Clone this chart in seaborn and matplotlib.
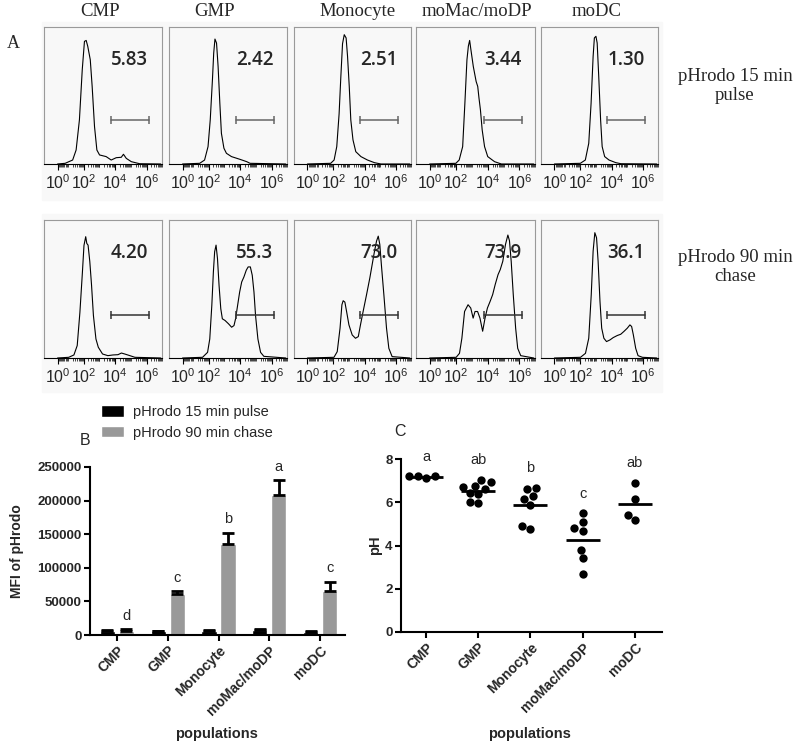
import numpy as np
import pandas as pd
import matplotlib
matplotlib.use("Agg")
import matplotlib.pyplot as plt
import matplotlib.ticker as mticker
from matplotlib.patches import Rectangle
import seaborn as sns

populations = ['CMP', 'GMP', 'Monocyte', 'moMac/moDP', 'moDC']

# panel A traces: x = log10 pHrodo intensity, y = % of plot height
pulse_cmp_x = [0, 0.88, 1.30, 1.52, 1.73, 1.91, 2.05, 2.16, 2.26, 2.42, 2.54, 2.69, 2.84, 3.01, 3.43, 3.75, 4.07, 4.39, 4.53, 4.71, 5.03, 5.56, 6.9]
pulse_cmp_y = [0, 0.5, 2.9, 10.2, 32.2, 68.8, 89.5, 90.2, 85.9, 76.1, 56.6, 27.3, 10.2, 6.6, 5.4, 2.9, 4.6, 4.9, 7.1, 4.1, 1.7, 0.2, 0]
pulse_gmp_x = [0, 1.43, 1.74, 1.96, 2.10, 2.24, 2.32, 2.40, 2.50, 2.60, 2.71, 2.81, 2.97, 3.13, 3.45, 3.99, 4.42, 4.63, 6.9]
pulse_gmp_y = [0, 0.5, 2.9, 12.7, 32.2, 61.5, 80.9, 91.2, 88.3, 71.2, 44.4, 22.4, 11.5, 7.8, 5.4, 3.4, 1.7, 0.5, 0]
pulse_mono_x = [0, 1.83, 2.05, 2.22, 2.37, 2.48, 2.59, 2.70, 2.82, 2.91, 3.02, 3.12, 3.26, 3.44, 3.77, 4.19, 4.63, 5.05, 6.9]
pulse_mono_y = [0, 0.5, 2.9, 12.7, 36.6, 63.4, 87.8, 94.4, 92.0, 78.8, 56.8, 32.2, 17.6, 9.0, 5.4, 2.9, 1.0, 0, 0]
pulse_momac_x = [0, 1.99, 2.20, 2.42, 2.56, 2.69, 2.78, 2.86, 2.94, 3.09, 3.27, 3.37, 3.45, 3.54, 3.65, 3.80, 4.00, 4.43, 4.86, 6.9]
pulse_momac_y = [0, 0.5, 2.9, 12.7, 44.4, 76.1, 86.1, 90.2, 83.4, 71.2, 60.2, 56.6, 48.0, 39.5, 24.9, 12.7, 5.4, 1.7, 0, 0]
pulse_modc_x = [0, 2.00, 2.32, 2.54, 2.69, 2.82, 2.90, 3.00, 3.08, 3.18, 3.30, 3.40, 3.56, 3.84, 4.27, 4.60, 6.9]
pulse_modc_y = [0, 0.5, 2.9, 15.1, 44.4, 78.5, 92.0, 93.2, 88.3, 63.9, 32.2, 12.7, 5.4, 2.9, 1.0, 0.2, 0]

chase_cmp_x = [0, 1.05, 1.38, 1.59, 1.76, 1.92, 2.02, 2.13, 2.20, 2.28, 2.39, 2.50, 2.62, 2.78, 2.93, 3.20, 3.54, 3.86, 4.18, 4.40, 4.61, 4.94, 5.26, 6.9]
chase_cmp_y = [0, 0.5, 2.2, 9.0, 33.0, 62.1, 81.6, 87.9, 83.0, 81.8, 69.9, 52.9, 30.8, 13.8, 7.8, 2.9, 1.7, 2.2, 2.4, 3.6, 2.9, 1.7, 0.5, 0]
chase_gmp_x = [0, 1.61, 1.93, 2.07, 2.20, 2.30, 2.38, 2.47, 2.56, 2.66, 2.77, 2.87, 3.04, 3.26, 3.46, 3.61, 3.71, 3.84, 3.97, 4.10, 4.24, 4.39, 4.51, 4.65, 4.77, 4.88, 4.98, 5.13, 5.30, 5.51, 6.9]
chase_gmp_y = [0, 0.5, 4.1, 13.8, 38.1, 62.4, 77.0, 81.8, 72.1, 52.7, 35.7, 28.4, 27.2, 24.8, 22.3, 23.5, 28.4, 38.1, 47.8, 55.1, 58.7, 63.6, 66.0, 66.0, 60.0, 47.8, 30.8, 13.8, 4.1, 1.2, 0]
chase_mono_x = [0, 2.04, 2.25, 2.43, 2.55, 2.63, 2.74, 2.85, 3.00, 3.21, 3.42, 3.60, 3.74, 3.91, 4.13, 4.34, 4.49, 4.64, 4.77, 4.88, 4.98, 5.08, 5.24, 5.41, 5.56, 5.77, 6.9]
chase_mono_y = [0, 0.5, 4.6, 21.6, 38.6, 41.5, 40.5, 33.7, 24.0, 16.7, 14.3, 15.5, 24.0, 33.7, 45.9, 58.0, 67.7, 77.4, 84.7, 88.3, 82.3, 67.7, 45.9, 21.6, 7.0, 1.0, 0]
chase_momac_x = [0, 2.01, 2.22, 2.37, 2.54, 2.76, 2.93, 3.08, 3.20, 3.36, 3.51, 3.68, 3.83, 3.98, 4.15, 4.31, 4.47, 4.65, 4.79, 4.95, 5.12, 5.27, 5.37, 5.48, 5.61, 5.76, 5.89, 6.08, 6.9]
chase_momac_y = [0, 0.5, 3.4, 14.3, 33.7, 38.6, 36.2, 28.9, 33.7, 33.7, 28.9, 19.4, 28.9, 36.2, 41.0, 45.9, 53.2, 60.4, 64.1, 70.1, 82.3, 89.1, 85.0, 70.0, 45.9, 21.6, 7.0, 1.7, 0]
chase_modc_x = [0, 2.01, 2.33, 2.54, 2.70, 2.82, 2.93, 3.04, 3.14, 3.26, 3.37, 3.51, 3.68, 3.90, 4.11, 4.37, 4.59, 4.79, 5.01, 5.18, 5.29, 5.40, 5.55, 5.70, 5.98, 6.9]
chase_modc_y = [0, 0.5, 3.4, 14.3, 45.9, 77.4, 90.8, 87.1, 70.1, 41.0, 21.6, 14.3, 11.9, 13.1, 14.8, 16.3, 17.2, 19.2, 21.6, 24.0, 22.8, 16.7, 7.0, 1.7, 0.5, 0]

pulse_pct = ['5.83', '2.42', '2.51', '3.44', '1.30']
chase_pct = ['4.20', '55.3', '73.0', '73.9', '36.1']
gate_log = [3.74, 6.13]

# panel B
pulse_mfi = [6000, 5500, 6500, 7500, 4500]
pulse_err = [1500, 1000, 1500, 1000, 800]
chase_mfi = [6500, 61000, 135000, 209000, 66000]
chase_err = [2000, 4000, 17000, 21000, 13000]
chase_letters = ['d', 'c', 'b', 'a', 'c']

# panel C
ph_cmp = [7.2, 7.1, 7.2, 7.2]
ph_gmp = [7.04, 6.93, 6.76, 6.70, 6.62, 6.45, 6.40, 6.0, 5.96]
ph_mono = [6.67, 6.6, 6.29, 6.15, 5.87, 4.9, 4.74]
ph_momac = [5.5, 5.08, 4.8, 4.68, 3.78, 3.4, 2.7]
ph_modc = [6.9, 6.13, 5.39, 5.17]
ph_letters = ['a', 'ab', 'b', 'c', 'ab']

sns.set_theme(style='ticks')
plt.rcParams['font.family'] = ['Liberation Sans', 'DejaVu Sans']
plt.rcParams['mathtext.fontset'] = 'custom'
plt.rcParams['mathtext.rm'] = 'Liberation Sans'
plt.rcParams['mathtext.it'] = 'Liberation Sans:italic'
plt.rcParams['mathtext.bf'] = 'Liberation Sans:bold'

W, H = 800, 741
fig = plt.figure(figsize=(8, 7.41), dpi=100)


def box(l, t, r, b):
    return [l / W, 1 - b / H, (r - l) / W, (b - t) / H]


def fpos(x, y):
    return x / W, 1 - y / H


serif = ['Liberation Serif', 'DejaVu Serif']

# light grey band behind the flow panels
for top, bot in [(22, 200), (214, 392)]:
    fig.patches.append(Rectangle((42 / W, 1 - bot / H), 620 / W, (bot - top) / H,
                                 transform=fig.transFigure, color='#f8f8f8', zorder=-5))

col_l = [44, 169, 294, 416, 541]
col_r = [162, 287, 411, 535, 658]
rows = [
    dict(t=27, b=164, xs=[pulse_cmp_x, pulse_gmp_x, pulse_mono_x, pulse_momac_x, pulse_modc_x],
         ys=[pulse_cmp_y, pulse_gmp_y, pulse_mono_y, pulse_momac_y, pulse_modc_y],
         pct=pulse_pct, gy=32, gc='#666666'),
    dict(t=220, b=358, xs=[chase_cmp_x, chase_gmp_x, chase_mono_x, chase_momac_x, chase_modc_x],
         ys=[chase_cmp_y, chase_gmp_y, chase_mono_y, chase_momac_y, chase_modc_y],
         pct=chase_pct, gy=31, gc='#333333'),
]
minor = [s * 10.0 ** d for d in range(0, 7) for s in range(1, 10) if not (s == 1 and d % 2 == 0)]

for row in rows:
    for i in range(5):
        ax = fig.add_axes(box(col_l[i], row['t'], col_r[i], row['b']))
        ax.set_facecolor('none')
        ax.plot(10.0 ** np.array(row['xs'][i]), row['ys'][i], color='black', lw=0.8)
        ax.plot(10.0 ** np.array(gate_log), [row['gy']] * 2, color=row['gc'], lw=1.1,
                marker='|', ms=6, mew=1.1)
        ax.set_xscale('symlog', linthresh=10, linscale=0.66)
        ax.set_xlim(-11.35, 10 ** 6.98)
        ax.set_ylim(0, 100)
        ax.set_yticks([])
        ax.set_xticks([1, 1e2, 1e4, 1e6])
        ax.set_xticklabels([r'$10^{0}$', r'$10^{2}$', r'$10^{4}$', r'$10^{6}$'])
        ax.xaxis.set_minor_locator(mticker.FixedLocator(minor))
        ax.xaxis.set_minor_formatter(mticker.NullFormatter())
        ax.tick_params(axis='x', which='major', length=4, width=0.8, labelsize=11.5, pad=3,
                       direction='out', color='black')
        ax.tick_params(axis='x', which='minor', length=2.2, width=0.6, direction='out')
        for s in ['left', 'top', 'right']:
            ax.spines[s].set_color('#9a9a9a')
            ax.spines[s].set_linewidth(0.8)
        ax.spines['bottom'].set_color('black')
        ax.spines['bottom'].set_linewidth(0.8)
        ax.text(0.885, 0.76, row['pct'][i], transform=ax.transAxes, ha='right', va='center',
                fontsize=13.5, fontweight='semibold', family=['Open Sans', 'DejaVu Sans'])

for name, cx in zip(populations, [100, 215, 358, 477, 597]):
    fig.text(*fpos(cx, 12), name, ha='center', va='center', fontsize=13.5, family=serif)
fig.text(*fpos(13, 43), 'A', ha='center', va='center', fontsize=13, family=serif)
fig.text(*fpos(735, 86), 'pHrodo 15 min\npulse', ha='center', va='center', fontsize=13.5,
         family=serif, linespacing=1.15)
fig.text(*fpos(735, 267), 'pHrodo 90 min\nchase', ha='center', va='center', fontsize=13.5,
         family=serif, linespacing=1.15)

# ---- panel B: MFI bars
axb = fig.add_axes(box(90, 467, 345, 635))
mfi = pd.DataFrame({
    'population': populations * 2,
    'condition': ['pHrodo 15 min pulse'] * 5 + ['pHrodo 90 min chase'] * 5,
    'mfi': pulse_mfi + chase_mfi,
})
sns.barplot(data=mfi, x='population', y='mfi', hue='condition', palette=['black', '#999999'],
            width=0.75, gap=0.2, errorbar=None, saturation=1, ax=axb)
for cont, err in zip(axb.containers, [pulse_err, chase_err]):
    xs = [b.get_x() + b.get_width() / 2 for b in cont]
    hs = [b.get_height() for b in cont]
    axb.errorbar(xs, hs, yerr=[np.zeros(5), err], fmt='none', ecolor='black',
                 elinewidth=2, capsize=4, capthick=2)
for b, err, letter in zip(axb.containers[1], chase_err, chase_letters):
    axb.text(b.get_x() + b.get_width() / 2, b.get_height() + err + 20000, letter,
             ha='center', va='center', fontsize=10.5)

handles, labels = axb.get_legend_handles_labels()
axb.legend_.remove()
fig.legend(handles, labels, loc='upper left', bbox_to_anchor=fpos(101, 405), frameon=False,
           handlelength=1.6, handleheight=0.8, handletextpad=0.6, labelspacing=0.45,
           borderpad=0, borderaxespad=0, fontsize=10.5)

axb.set_xlim(-0.53, 4.49)
axb.set_ylim(0, 250000)
axb.set_yticks(range(0, 250001, 50000))
axb.set_yticklabels([str(v) for v in range(0, 250001, 50000)])
axb.set_ylabel('MFI of pHrodo', fontsize=10, fontweight='bold', labelpad=10)
axb.set_xlabel('populations', fontsize=10.5, fontweight='bold')
axb.xaxis.set_label_coords(0.498, -0.548)

# ---- panel C: pH
axc = fig.add_axes(box(401, 459, 662, 632))
ph_groups = [ph_cmp, ph_gmp, ph_mono, ph_momac, ph_modc]
ph = pd.DataFrame({
    'population': np.repeat(populations, [len(v) for v in ph_groups]),
    'pH': np.concatenate(ph_groups),
})
sns.swarmplot(data=ph, x='population', y='pH', color='black', size=6, ax=axc)
sns.pointplot(data=ph, x='population', y='pH', estimator='mean', errorbar=None, color='black',
              markers='_', markersize=25, markeredgewidth=2, linestyle='none', ax=axc)
for i, (vals, letter) in enumerate(zip(ph_groups, ph_letters)):
    axc.text(i, max(vals) + 0.9, letter, ha='center', va='center', fontsize=10.5)
axc.set_xlim(-0.48, 4.52)
axc.set_ylim(0, 8)
axc.set_yticks([0, 2, 4, 6, 8])
axc.set_ylabel('pH', fontsize=10.5, fontweight='bold', labelpad=2)
axc.set_xlabel('populations', fontsize=10.5, fontweight='bold')
axc.xaxis.set_label_coords(0.494, -0.549)

for ax in [axb, axc]:
    sns.despine(ax=ax)
    for s in ['left', 'bottom']:
        ax.spines[s].set_linewidth(1.5)
        ax.spines[s].set_color('black')
    ax.tick_params(length=4, width=1.5, direction='out', color='black', labelsize=9.5, pad=2)
    ax.tick_params(axis='x', labelsize=10)
    ax.set_xticks(range(5))
    ax.set_xticklabels(populations, rotation=45, ha='right', rotation_mode='anchor')
    for lbl in ax.get_xticklabels() + ax.get_yticklabels():
        lbl.set_fontweight('bold')

fig.text(*fpos(85, 441), 'B', ha='center', va='center', fontsize=11.5)
fig.text(*fpos(400, 432), 'C', ha='center', va='center', fontsize=11.5)

fig.savefig('out.png', dpi=100)
